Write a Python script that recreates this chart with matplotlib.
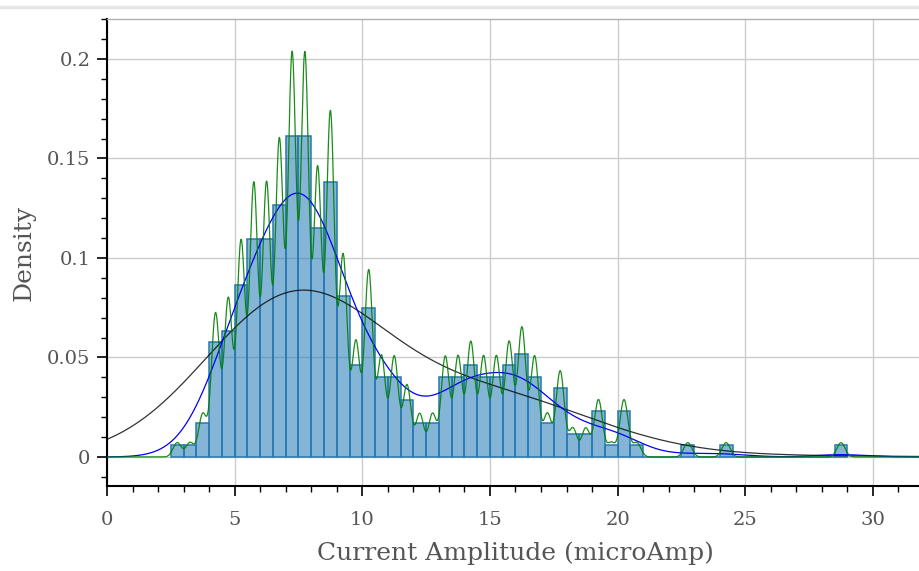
import numpy as np
import matplotlib
matplotlib.use("Agg")
import matplotlib.pyplot as plt
from matplotlib.ticker import MultipleLocator, FormatStrFormatter
from matplotlib.lines import Line2D

# --- data ---
# histogram bins (width 0.5) starting at 2.5, counts per bin
BIN_START = 2.5
BIN_WIDTH = 0.5
counts = [1, 1, 3, 10, 11, 15, 19, 19, 22, 28, 28, 20, 24, 14, 8, 13,
          7, 7, 5, 3, 3, 7, 7, 8, 7, 7, 8, 9, 7, 3, 6, 2, 2, 4, 1, 4,
          1, 0, 0, 0, 1, 0, 0, 1, 0, 0, 0, 0, 0, 0, 0, 0, 1]

# kde bandwidths (microAmp) for the three smoothed curves
kde_bw = {"green": 0.16, "blue": 1.0, "black": 3.0}

x_ticks = [0, 5, 10, 15, 20, 25, 30]
y_ticks = [0, 0.05, 0.1, 0.15, 0.2]

edges = BIN_START + BIN_WIDTH * np.arange(len(counts) + 1)
centers = edges[:-1] + BIN_WIDTH / 2
samples = np.repeat(centers, counts)


def kde(xs, data, bw):
    z = (xs[:, None] - data[None, :]) / bw
    return np.exp(-0.5 * z ** 2).sum(axis=1) / (len(data) * bw * np.sqrt(2 * np.pi))


TXT = "#555555"
plt.rcParams["font.family"] = ["DejaVu Serif"]

fig = plt.figure(figsize=(9.2, 5.71), dpi=100)
ax = fig.add_axes([107 / 920, 85 / 571, 817 / 920, 467 / 571])

ax.hist(samples, bins=edges, density=True,
        facecolor=(0.12, 0.47, 0.71, 0.55), edgecolor="#2a78b0",
        linewidth=1.1, zorder=2)

xs = np.linspace(0, 32, 2000)
ax.plot(xs, kde(xs, samples, kde_bw["black"]), color="black", lw=0.9, alpha=0.8, zorder=3)
ax.plot(xs, kde(xs, samples, kde_bw["blue"]), color="blue", lw=0.9, zorder=4)
ax.plot(xs, kde(xs, samples, kde_bw["green"]), color="green", lw=0.9, alpha=0.9, zorder=5)

ax.set_xlim(0, 32)
ax.set_ylim(-0.0146, 0.2201)
ax.set_xticks(x_ticks)
ax.set_yticks(y_ticks)
ax.xaxis.set_minor_locator(MultipleLocator(1))
ax.yaxis.set_minor_locator(MultipleLocator(0.01))
ax.yaxis.set_major_formatter(FormatStrFormatter("%g"))

ax.grid(True, which="major", color="#cccccc", lw=1, zorder=0)
ax.set_axisbelow(True)

for s in ["left", "bottom"]:
    ax.spines[s].set_color("black")
    ax.spines[s].set_linewidth(1.5)
ax.spines["top"].set_color("#b0b0b0")
ax.spines["top"].set_linewidth(1)
ax.spines["right"].set_visible(False)

ax.tick_params(which="major", direction="out", length=7, width=1.2,
               colors="black", labelcolor=TXT, labelsize=14, pad=5)
ax.tick_params(axis="x", which="major", pad=11)
ax.tick_params(which="minor", direction="out", length=4, width=1, colors="black")

ax.set_xlabel("Current Amplitude (microAmp)", fontsize=18, color=TXT, labelpad=9)
ax.set_ylabel("Density", fontsize=18, color=TXT, labelpad=8)

fig.add_artist(Line2D([0, 1], [1 - 7 / 571, 1 - 7 / 571], color="#e6e6e6", lw=2.5))

fig.savefig("out.png", dpi=100)
plt.close()
